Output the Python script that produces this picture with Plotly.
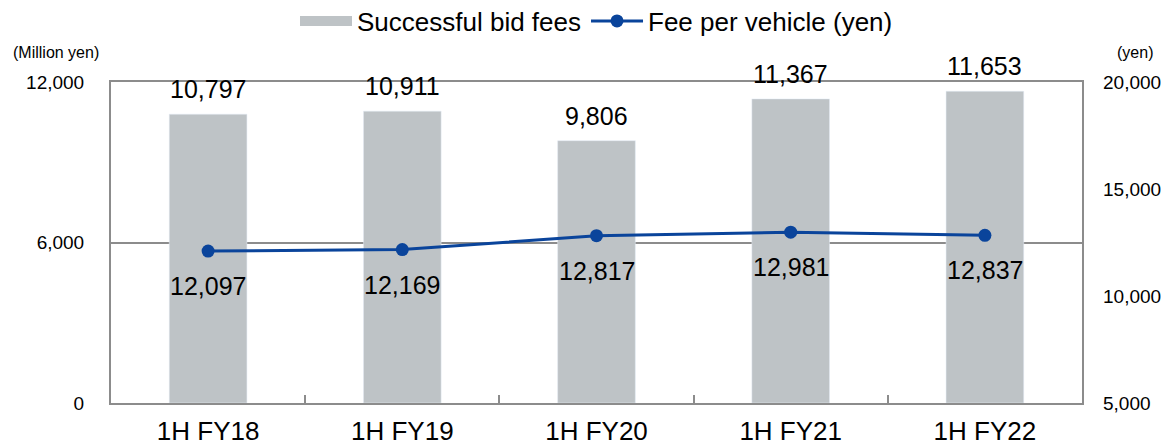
import plotly.graph_objects as go

categories = ["1H FY18", "1H FY19", "1H FY20", "1H FY21", "1H FY22"]
bid_fees = [10797, 10911, 9806, 11367, 11653]          # million yen
fee_per_vehicle = [12097, 12169, 12817, 12981, 12837]  # yen

BAR_COLOR = "#BEC3C6"
LINE_COLOR = "#0A449B"
FRAME = "#8C8C8C"
FONT = "Liberation Sans, Arial, sans-serif"

L, R, T, B = 111, 83, 82, 44
PW, PH = 1165 - L - R, 447 - T - B

fig = go.Figure()
fig.add_trace(go.Bar(
    x=categories, y=bid_fees, name="Successful bid fees",
    marker_color=BAR_COLOR, width=0.4, showlegend=False, yaxis="y",
))
# legend stand-in for bar (wide rectangle symbol)
fig.add_trace(go.Scatter(
    x=[None], y=[None], mode="lines", name="Successful bid fees",
    line=dict(color=BAR_COLOR, width=13), yaxis="y",
))
fig.add_trace(go.Scatter(
    x=categories, y=fee_per_vehicle, name="Fee per vehicle (yen)",
    mode="lines+markers", line=dict(color=LINE_COLOR, width=3),
    marker=dict(size=13, color=LINE_COLOR), yaxis="y2",
))

annotations = []
for c, v in zip(categories, bid_fees):
    annotations.append(dict(x=c, y=v, xref="x", yref="y", text=f"{v:,}",
                            showarrow=False, yanchor="middle", yshift=25,
                            font=dict(size=25, color="#000", family=FONT)))
for c, v in zip(categories, fee_per_vehicle):
    annotations.append(dict(x=c, y=v, xref="x", yref="y2", text=f"{v:,}",
                            showarrow=False, yanchor="middle", yshift=-35,
                            font=dict(size=25, color="#000", family=FONT)))
annotations.append(dict(x=(56 - L) / PW, y=(403 - 52) / PH, xref="paper", yref="paper",
                        text="(Million yen)", showarrow=False, xanchor="center", yanchor="middle",
                        font=dict(size=16, color="#000", family=FONT)))
annotations.append(dict(x=(1135 - L) / PW, y=(403 - 52) / PH, xref="paper", yref="paper",
                        text="(yen)", showarrow=False, xanchor="center", yanchor="middle",
                        font=dict(size=16, color="#000", family=FONT)))

fig.update_layout(
    width=1165, height=447,
    margin=dict(l=L, r=R, t=T, b=B, autoexpand=False),
    paper_bgcolor="white", plot_bgcolor="white",
    font=dict(family=FONT, color="#000"),
    showlegend=True,
    legend=dict(orientation="h", x=0.5, xanchor="center", y=1 + (T - 21) / PH,
                yanchor="middle", font=dict(size=26, family=FONT), itemwidth=52,
                traceorder="normal", bgcolor="rgba(0,0,0,0)"),
    xaxis=dict(showline=True, mirror=True, linecolor=FRAME, linewidth=2,
               ticks="inside", tickson="boundaries", ticklen=8, tickcolor=FRAME,
               tickwidth=2, showgrid=False, ticklabelstandoff=4,
               tickfont=dict(size=26, family=FONT)),
    yaxis=dict(range=[0, 12000], dtick=6000, tickformat=",", showline=True,
               mirror=True, linecolor=FRAME, linewidth=2, showgrid=True,
               gridcolor=FRAME, gridwidth=2, zeroline=False, ticks="",
               ticklabelstandoff=21, tickfont=dict(size=19, family=FONT)),
    yaxis2=dict(range=[5000, 20000], dtick=5000, tickformat=",", overlaying="y",
                side="right", showgrid=False, zeroline=False, showline=False, ticks="",
                ticklabelstandoff=20, tickfont=dict(size=19, family=FONT)),
    annotations=annotations,
)

fig.write_html(
    "out.html",
    config={"displayModeBar": False},
    post_script="document.body.style.margin='0';document.body.style.overflow='hidden';",
)
